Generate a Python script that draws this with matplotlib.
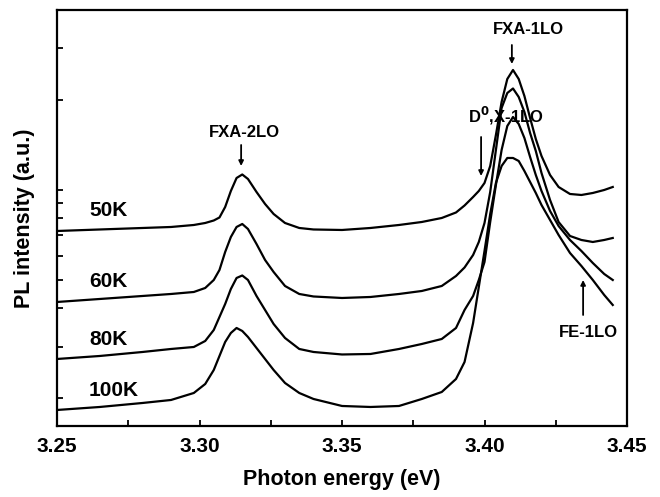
"""PL spectra at several temperatures, LO phonon replicas."""
import matplotlib
matplotlib.use("Agg")
import numpy as np
from matplotlib import pyplot as plt

plt.rcParams["font.family"] = ["Liberation Sans", "DejaVu Sans"]

# photon energy grid (eV), shared by all spectra
energy = [
    3.250, 3.265, 3.280, 3.290, 3.298, 3.302, 3.305, 3.307, 3.309, 3.311,
    3.313, 3.315, 3.317, 3.320, 3.323, 3.326, 3.330, 3.335, 3.340, 3.350,
    3.360, 3.370, 3.378, 3.385, 3.390, 3.393, 3.396, 3.398, 3.400, 3.402,
    3.404, 3.406, 3.408, 3.410, 3.412, 3.414, 3.416, 3.418, 3.420, 3.423,
    3.426, 3.430, 3.434, 3.438, 3.442, 3.445,
]

# PL intensity (a.u., curves already offset as in the figure)
pl_50k = [
    195, 196.5, 198, 199, 201, 203, 205.5, 208.5, 219, 235,
    248, 251.5, 247, 234, 222, 212, 203, 198, 196.5, 196,
    198, 201, 204, 208, 213.5, 220.5, 229, 235, 243, 260,
    291, 324, 347, 356, 347, 330, 308, 287, 270, 251,
    239, 232, 231, 233, 236, 239,
]
pl_60k = [
    124, 127, 130, 132, 134, 138, 146, 156, 174, 189,
    199, 202, 197, 182, 166, 154, 140, 132, 129.5, 128,
    129, 132, 135, 140, 150, 158.5, 171, 184, 203, 234,
    276, 318, 333, 337.5, 329, 314, 293, 275, 253, 226,
    204, 190, 186, 184, 186, 188,
]
pl_80k = [
    67, 70, 74, 77, 79, 85, 96, 109, 122, 137,
    148, 150.5, 146, 130, 116, 102, 88, 77, 74, 71.5,
    72, 77, 82, 87, 98, 116, 130, 146, 164, 204,
    241, 276, 300, 309, 302, 288, 269, 251, 235, 215,
    200, 186, 175, 163, 152, 146,
]
pl_100k = [
    16, 19, 23, 26, 33, 42, 56, 70, 84, 93,
    98, 95, 89, 78, 67, 56, 43, 33, 27, 20,
    19, 20, 27, 34, 47, 64, 103, 139, 175, 212,
    243, 260, 268, 268, 265, 255, 244, 233, 221, 206,
    191, 173, 160, 146, 131, 121,
]

spectra = [("50K", pl_50k, 215), ("60K", pl_60k, 144),
           ("80K", pl_80k, 86), ("100K", pl_100k, 35)]

ytick_pos = [378, 326, 236, 223, 208, 191, 170, 146, 118, 79, 28]

fig = plt.figure(figsize=(6.6, 4.97), dpi=100)
ax = fig.add_axes([0.0864, 0.1429, 0.8636, 0.837])

for label, pl, ylab in spectra:
    ax.plot(energy, pl, color="black", lw=1.6)
    ax.text(3.2612, ylab, label, fontsize=15, fontweight="bold",
            ha="left", va="center")

arrow = dict(arrowstyle="-|>", color="black", lw=1.3, mutation_scale=7,
             shrinkA=0, shrinkB=0)
peak_kw = dict(fontsize=12, fontweight="bold", ha="center", va="center")
ax.text(3.3156, 293, "FXA-2LO", **peak_kw)
ax.annotate("", xy=(3.3146, 260), xytext=(3.3146, 281), arrowprops=arrow)
ax.text(3.4153, 396, "FXA-1LO", **peak_kw)
ax.annotate("", xy=(3.4096, 362), xytext=(3.4096, 381), arrowprops=arrow)
ax.text(3.4075, 310, "D$^\\mathbf{0}$,X-1LO", **peak_kw)
ax.annotate("", xy=(3.3988, 250), xytext=(3.3988, 289), arrowprops=arrow)
ax.text(3.4363, 93, "FE-1LO", **peak_kw)
ax.annotate("", xy=(3.4346, 146), xytext=(3.4346, 111), arrowprops=arrow)

ax.set_xlim(3.25, 3.45)
ax.set_ylim(0, 416)
ax.set_xticks([3.25, 3.30, 3.35, 3.40, 3.45])
ax.set_xticks([3.275, 3.325, 3.375, 3.425], minor=True)
ax.set_xticklabels(["3.25", "3.30", "3.35", "3.40", "3.45"],
                   fontweight="bold")
ax.set_yticks(ytick_pos)
ax.set_yticklabels([])
ax.tick_params(which="both", direction="in", length=4, width=1.3,
               labelsize=15, pad=8)
for s in ax.spines.values():
    s.set_linewidth(1.6)

ax.set_xlabel("Photon energy (eV)", fontsize=15.5, fontweight="bold",
              labelpad=9)
ax.set_ylabel("PL intensity (a.u.)", fontsize=15.5, fontweight="bold",
              labelpad=8)

fig.savefig("out.png", dpi=100)
